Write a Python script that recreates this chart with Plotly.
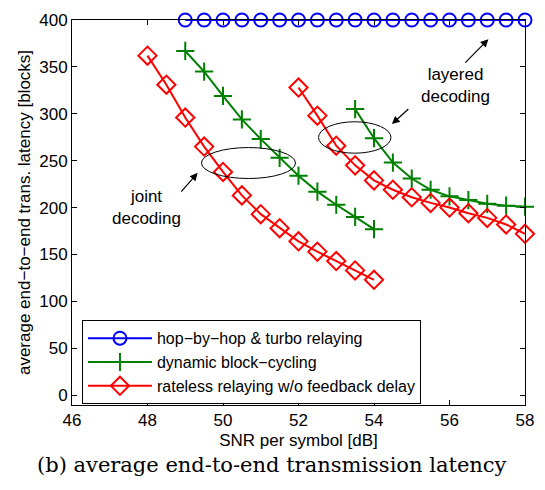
import plotly.graph_objects as go

# ---- data ----
snr_blue = [49 + 0.5 * i for i in range(19)]
lat_blue = [400] * 19

snr_green_joint = [49, 49.5, 50, 50.5, 51, 51.5, 52, 52.5, 53, 53.5, 54]
lat_green_joint = [367, 345, 319, 294, 273, 253, 234, 217, 203, 190, 177]

snr_green_layer = [53.5, 54, 54.5, 55, 55.5, 56, 56.5, 57, 57.5, 58]
lat_green_layer = [305, 274, 248, 231, 219, 212, 208, 204, 202, 201]

snr_red_joint = [48, 48.5, 49, 49.5, 50, 50.5, 51, 51.5, 52, 52.5, 53, 53.5, 54]
lat_red_joint = [362, 331, 296, 265, 238, 213, 193, 178, 164, 153, 143, 133, 123]

snr_red_layer = [52, 52.5, 53, 53.5, 54, 54.5, 55, 55.5, 56, 56.5, 57, 57.5, 58]
lat_red_layer = [328, 298, 266, 245, 229, 219, 211, 205, 200, 194, 189, 182, 172]

names = ["hop\u2212by\u2212hop & turbo relaying",
         "dynamic block\u2212cycling",
         "rateless relaying w/o feedback delay"]

x_ticks = [46, 48, 50, 52, 54, 56, 58]
y_ticks = [0, 50, 100, 150, 200, 250, 300, 350, 400]

BLUE, GREEN, RED = "#0000ff", "#008000", "#ff0000"
font = "Liberation Sans, Arial, sans-serif"
FS = 17

fig = go.Figure()

fig.add_trace(go.Scatter(
    x=snr_blue, y=lat_blue, mode="lines+markers", name=names[0],
    line=dict(color=BLUE, width=2),
    marker=dict(symbol="circle-open", size=13, color=BLUE, line=dict(width=2, color=BLUE)),
    cliponaxis=False))

plus_marker = dict(symbol="cross-thin-open", size=13, color=GREEN, line=dict(width=2, color=GREEN))
fig.add_trace(go.Scatter(
    x=snr_green_joint, y=lat_green_joint, mode="lines+markers", name=names[1],
    line=dict(color=GREEN, width=2), marker=plus_marker, cliponaxis=False, legendgroup="g"))
fig.add_trace(go.Scatter(
    x=snr_green_layer, y=lat_green_layer, mode="lines+markers", name=names[1],
    line=dict(color=GREEN, width=2), marker=plus_marker, cliponaxis=False,
    legendgroup="g", showlegend=False))

dia_marker = dict(symbol="diamond-open", size=14, color=RED, line=dict(width=2, color=RED))
fig.add_trace(go.Scatter(
    x=snr_red_joint, y=lat_red_joint, mode="lines+markers", name=names[2],
    line=dict(color=RED, width=2), marker=dia_marker, cliponaxis=False, legendgroup="r"))
fig.add_trace(go.Scatter(
    x=snr_red_layer, y=lat_red_layer, mode="lines+markers", name=names[2],
    line=dict(color=RED, width=2), marker=dia_marker, cliponaxis=False,
    legendgroup="r", showlegend=False))

# ellipses
fig.add_shape(type="circle", xref="x", yref="y", x0=49.43, x1=51.92, y0=231, y1=264,
              line=dict(color="black", width=1))
fig.add_shape(type="circle", xref="x", yref="y", x0=52.53, x1=54.45, y0=258, y1=291.5,
              line=dict(color="black", width=1))

# arrows
arr = dict(showarrow=True, arrowhead=2, arrowsize=1.3, arrowwidth=1.2, arrowcolor="black",
           xref="x", yref="y", axref="x", ayref="y", text="")
fig.add_annotation(x=49.33, y=237, ax=48.86, ay=215.5, **arr)
fig.add_annotation(x=54.475, y=289, ax=54.95, ay=306.5, **arr)
fig.add_annotation(x=57.03, y=379.5, ax=56.38, ay=353, **arr)

fig.add_annotation(x=47.97, y=200, xref="x", yref="y", showarrow=False,
                   text="joint<br>decoding", font=dict(family=font, size=FS, color="black"))
fig.add_annotation(x=56.15, y=330, xref="x", yref="y", showarrow=False,
                   text="layered<br>decoding", font=dict(family=font, size=FS, color="black"))

# caption
fig.add_annotation(x=0.442, y=-0.12, xref="paper", yref="paper", yanchor="top",
                   showarrow=False, text="(b) average end-to-end transmission latency",
                   font=dict(family="DejaVu Serif, serif", size=21, color="black"))

axis_common = dict(showline=True, linecolor="black", linewidth=1, mirror="ticks",
                   ticks="inside", ticklen=5, tickcolor="black", showgrid=False,
                   zeroline=False, tickfont=dict(family=font, size=FS, color="black"),
                   title_font=dict(family=font, size=FS, color="black"))

fig.update_xaxes(range=[46, 58], tickvals=x_ticks, title_text="SNR per symbol [dB]",
                 title_standoff=4, **axis_common)
fig.update_yaxes(range=[-10.5, 400], tickvals=y_ticks,
                 title_text="average end\u2212to\u2212end trans. latency [blocks]",
                 title_standoff=4, **axis_common)

fig.update_layout(
    width=545, height=490,
    margin=dict(l=72, r=11, t=16, b=85),
    paper_bgcolor="white", plot_bgcolor="white",
    font=dict(family=font, color="black"),
    legend=dict(x=0.022, y=0.22, xanchor="left", yanchor="top",
                bgcolor="white", bordercolor="black", borderwidth=1,
                font=dict(family=font, size=16, color="black"),
                itemwidth=64, tracegroupgap=0),
)

fig.write_html("out.html")
